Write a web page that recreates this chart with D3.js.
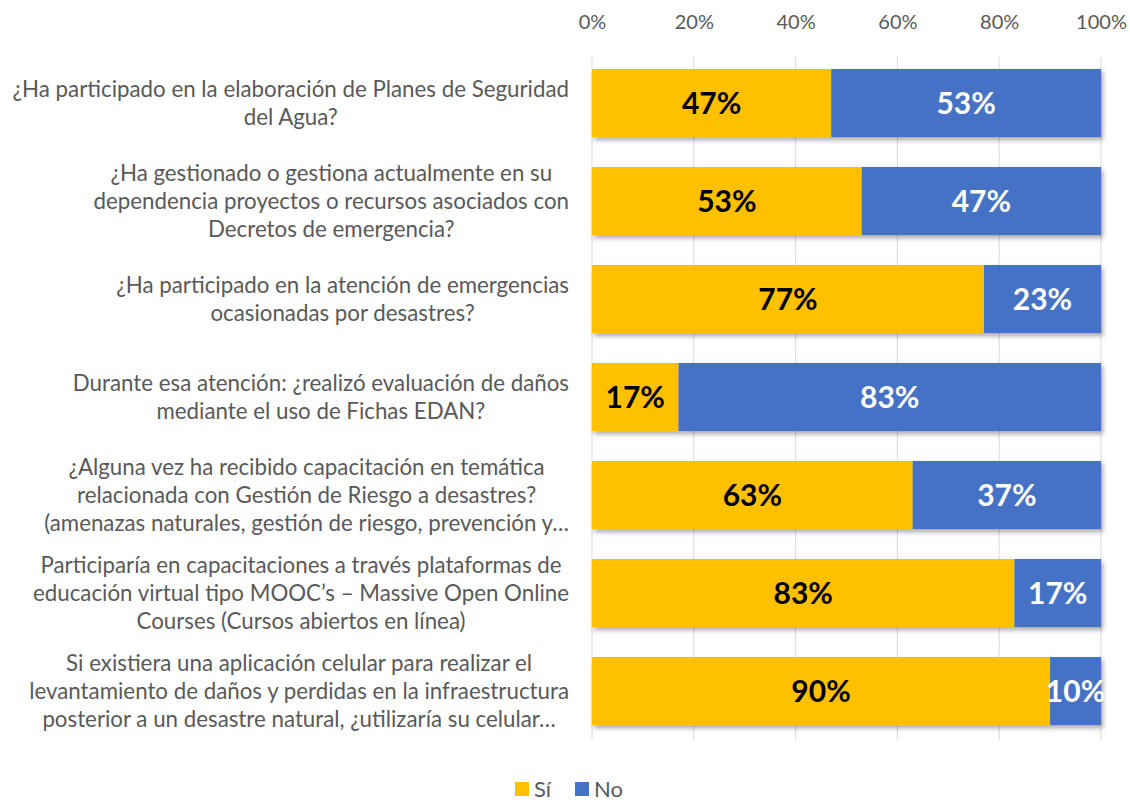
<!DOCTYPE html>
<html>
<head>
<meta charset="utf-8">
<script src="https://d3js.org/d3.v7.min.js"></script>
<style>
  html, body { margin: 0; padding: 0; background: #fff; }
  svg { display: block; }
</style>
</head>
<body>
<script>
// Data
const questions = [
  ["¿Ha participado en la elaboración de Planes de Seguridad", "del Agua?"],
  ["¿Ha gestionado o gestiona actualmente en su", "dependencia proyectos o recursos asociados con", "Decretos de emergencia?"],
  ["¿Ha participado en la atención de emergencias", "ocasionadas por desastres?"],
  ["Durante esa atención: ¿realizó evaluación de daños", "mediante el uso de Fichas EDAN?"],
  ["¿Alguna vez ha recibido capacitación en temática", "relacionada con Gestión de Riesgo a desastres?", "(amenazas naturales, gestión de riesgo, prevención y…"],
  ["Participaría en capacitaciones a través plataformas de", "educación virtual tipo MOOC’s – Massive Open Online", "Courses (Cursos abiertos en línea)"],
  ["Si existiera una aplicación celular para realizar el", "levantamiento de daños y perdidas en la infraestructura", "posterior a un desastre natural, ¿utilizaría su celular…"]
];
const siValues = [47, 53, 77, 17, 63, 83, 90];
const noValues = [53, 47, 23, 83, 37, 17, 10];
const seriesNames = ["Sí", "No"];
const seriesColors = ["#FFC000", "#4472C4"];
const tickValues = [0, 20, 40, 60, 80, 100];

const width = 1130, height = 804;
const margin = { top: 54, right: 29, bottom: 64, left: 592 };
const font = "Lato, sans-serif";

const svg = d3.select("body").append("svg")
  .attr("width", width)
  .attr("height", height)
  .attr("font-family", font);

const defs = svg.append("defs");
const shadow = defs.append("filter").attr("id", "shadow")
  .attr("x", "-5%").attr("y", "-20%").attr("width", "115%").attr("height", "160%");
shadow.append("feDropShadow")
  .attr("dx", 2).attr("dy", 3).attr("stdDeviation", 2.5)
  .attr("flood-color", "#000").attr("flood-opacity", 0.35);

const x = d3.scaleLinear().domain([0, 100]).range([margin.left, width - margin.right]);
const y = d3.scaleBand().domain(d3.range(questions.length))
  .range([margin.top, height - margin.bottom])
  .paddingInner(0.306).paddingOuter(0.153);

// Gridlines
svg.append("g").selectAll("line").data(tickValues).enter().append("line")
  .attr("x1", d => x(d)).attr("x2", d => x(d))
  .attr("y1", margin.top + 3).attr("y2", height - margin.bottom)
  .attr("stroke", "#D9D9D9").attr("stroke-width", 1);

// Top axis
const xAxis = d3.axisTop(x).tickValues(tickValues).tickFormat(d => d + "%").tickSize(0).tickPadding(0);
const ax = svg.append("g").attr("transform", `translate(0,${margin.top - 25})`).call(xAxis);
ax.select(".domain").remove();
ax.attr("font-family", font).attr("font-size", 20);
ax.selectAll("text").attr("fill", "#595959");

// Stacked data
const rows = siValues.map((v, i) => ({ i, vals: [v, noValues[i]] }));
const stack = d3.stack().keys([0, 1]).value((d, k) => d.vals[k]);
const stacked = stack(rows);

const bars = svg.append("g").attr("filter", "url(#shadow)");
stacked.forEach((layer, k) => {
  bars.selectAll(".s" + k).data(layer).enter().append("rect")
    .attr("class", "s" + k)
    .attr("x", d => x(d[0]))
    .attr("width", d => x(d[1]) - x(d[0]))
    .attr("y", (d, i) => y(i))
    .attr("height", y.bandwidth())
    .attr("fill", seriesColors[k]);
});

// Value labels
stacked.forEach((layer, k) => {
  svg.selectAll(".l" + k).data(layer).enter().append("text")
    .attr("class", "l" + k)
    .attr("x", d => x((d[0] + d[1]) / 2))
    .attr("y", (d, i) => y(i) + y.bandwidth() / 2)
    .attr("dy", "0.36em")
    .attr("text-anchor", "middle")
    .attr("fill", k === 0 ? "#000" : "#fff")
    .attr("font-family", font)
    .attr("font-size", 30)
    .attr("font-weight", "bold")
    .text(d => (d[1] - d[0]) + "%");
});

// Category labels (centered lines, block right-aligned)
const labelRight = margin.left - 23;
const lineH = 28;
questions.forEach((lines, i) => {
  const cy = y(i) + y.bandwidth() / 2;
  const texts = svg.append("g").selectAll("text").data(lines).enter().append("text")
    .attr("y", (d, j) => cy + (j - (lines.length - 1) / 2) * lineH)
    .attr("dy", "0.35em")
    .attr("text-anchor", "middle")
    .attr("fill", "#595959")
    .attr("font-family", font)
    .attr("font-size", 22.3)
    .text(d => d);
  let maxW = 0;
  texts.each(function () { maxW = Math.max(maxW, this.getComputedTextLength()); });
  texts.attr("x", labelRight - maxW / 2);
});

// Legend
const legendX = [515, 575];
const legendY = height - 15;
seriesNames.forEach((name, k) => {
  svg.append("rect")
    .attr("x", legendX[k]).attr("y", legendY - 7).attr("width", 14).attr("height", 14)
    .attr("fill", seriesColors[k]);
  svg.append("text")
    .attr("x", legendX[k] + 19).attr("y", legendY).attr("dy", "0.35em")
    .attr("fill", "#595959")
    .attr("font-family", font)
    .attr("font-size", 22)
    .text(name);
});
</script>
</body>
</html>
